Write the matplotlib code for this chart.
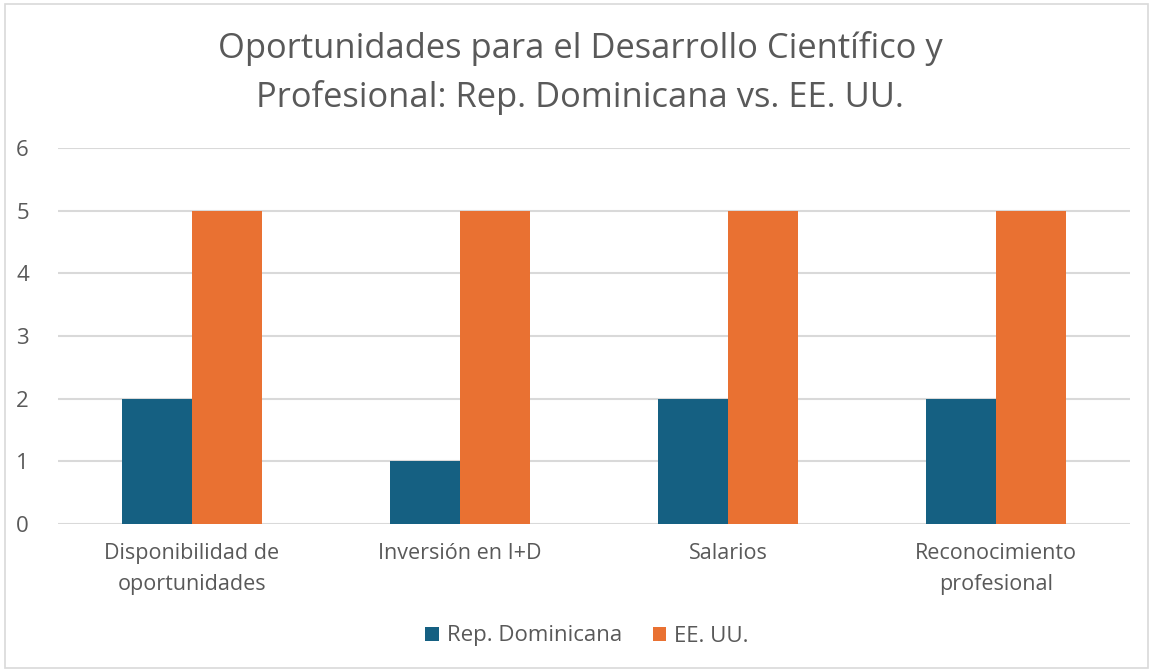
import matplotlib
matplotlib.use("Agg")
import matplotlib.pyplot as plt
import numpy as np
from matplotlib.patches import Rectangle

categories = ["Disponibilidad de\noportunidades", "Inversión en I+D", "Salarios", "Reconocimiento\nprofesional"]
series_names = ["Rep. Dominicana", "EE. UU."]
rep_dom = [2, 1, 2, 2]
ee_uu = [5, 5, 5, 5]
colors = ["#156082", "#E97132"]
yticks = [0, 1, 2, 3, 4, 5, 6]
title = "Oportunidades para el Desarrollo Científico y\nProfesional: Rep. Dominicana vs. EE. UU."

plt.rcParams['font.family'] = ['Open Sans', 'DejaVu Sans']
txt = "#595959"

fig = plt.figure(figsize=(11.53, 6.72), dpi=100)
ax = fig.add_axes([58/1153, 1-524/672, (1130-58)/1153, (524-148)/672])

x = np.arange(len(categories))
w = 70/268
ax.bar(x - w/2, rep_dom, w, color=colors[0], label=series_names[0], zorder=3)
ax.bar(x + w/2, ee_uu, w, color=colors[1], label=series_names[1], zorder=3)

ax.set_xlim(-0.5, len(categories) - 0.5)
ax.set_ylim(0, 6)
ax.set_yticks(yticks)
ax.set_xticks(x)
ax.set_xticklabels(categories, fontsize=15.5, color=txt, linespacing=1.6)
ax.tick_params(axis='y', labelsize=16, labelcolor=txt, length=0, pad=21)
ax.tick_params(axis='x', length=0, pad=14)
ax.grid(axis='y', color="#D9D9D9", linewidth=1.5, zorder=0)
for s in ax.spines.values():
    s.set_visible(False)

fig.text(580/1153, 1-73/672, title, ha='center', va='center', fontsize=24.8,
         color=txt, linespacing=1.55)

leg = fig.legend(loc='center', bbox_to_anchor=(587/1153, 1-636/672), ncol=2,
                 frameon=False, fontsize=16, handlelength=0.6, handleheight=0.6,
                 columnspacing=1.4, handletextpad=0.35)
for t in leg.get_texts():
    t.set_color(txt)

fig.patches.append(Rectangle((5/1153, 4/672), 1143/1153, 664/672, transform=fig.transFigure,
                             fill=False, edgecolor="#D9D9D9", linewidth=1.2))

fig.savefig("out.png", dpi=100, facecolor="white")
